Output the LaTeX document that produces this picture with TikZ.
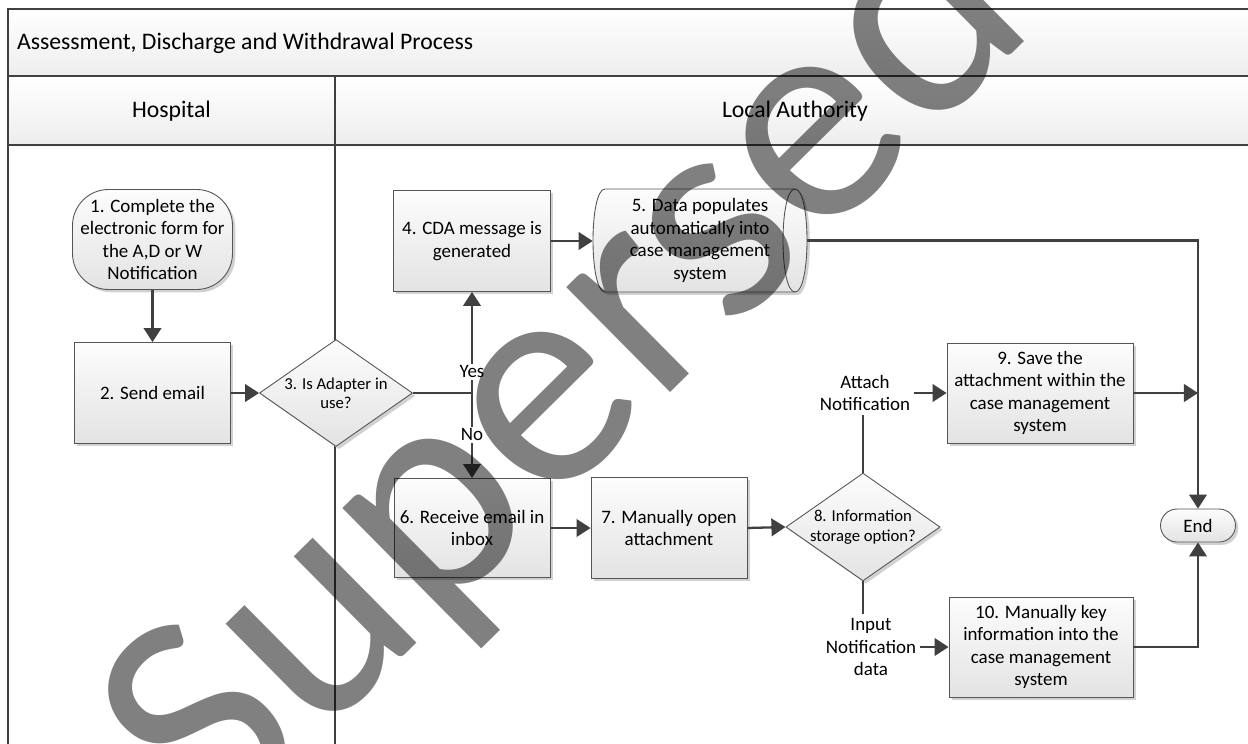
\documentclass[tikz,border=0pt]{standalone}
\usepackage{fontspec}
\setmainfont{Carlito}
\usetikzlibrary{shapes.geometric,arrows.meta,shadows,calc}
\definecolor{lineC}{RGB}{64,64,64}
\definecolor{boxline}{RGB}{85,85,85}
\definecolor{wmgray}{RGB}{128,128,128}
\newcommand{\boxfnt}{\fontsize{10.8}{12.8}\selectfont}
\newcommand{\diafnt}{\fontsize{9.5}{11}\selectfont}
\newcommand{\titfnt}{\fontsize{13.5}{15}\selectfont}
\begin{document}
\begin{tikzpicture}[x=0.02cm,y=-0.02cm,
  shadowed/.style={drop shadow={shadow xshift=1.6pt,shadow yshift=-1.6pt,fill=black!18,opacity=1}},
  boxfill/.style={top color=black!1, bottom color=black!11},
  box/.style={rectangle, draw=boxline, line width=0.5pt, boxfill, shadowed, align=center, font=\boxfnt, inner sep=1pt},
  dia/.style={diamond, aspect=1.43, draw=boxline, line width=0.5pt, boxfill, shadowed, align=center, font=\diafnt, inner sep=0pt},
  term/.style={box},
  lane/.style={draw=lineC, line width=1pt},
  band/.style={lane, top color=white, bottom color=black!7},
  conn/.style={draw=lineC, line width=1.3pt, -{Triangle[length=8pt,width=10pt]}},
  plain/.style={draw=lineC, line width=1.3pt},
  lbl/.style={fill=white, inner sep=1pt, font=\boxfnt},
  txt/.style={align=center, font=\boxfnt, inner sep=2pt}
]
\useasboundingbox (0,0) rectangle (1248,744);
% swimlanes
\path[band] (8,9) rectangle (1260,76);
\path[band] (8,76) rectangle (1260,145);
\path[lane, fill=white] (8,145) rectangle (1260,760);
\draw[lane] (335,76) -- (335,760);
\node[anchor=west, font=\titfnt, inner sep=1pt] (title) at (15,43) {Assessment, Discharge and Withdrawal Process};
\node[font=\titfnt] (hosp) at (171.5,111) {Hospital};
\node[font=\titfnt] (la) at (795,111) {Local Authority};

% nodes
\node[term, rounded corners=0.72cm, minimum width=3.2cm, minimum height=2.0cm] (n1) at (152.5,239.5)
  {1. Complete the\\electronic form for\\the A,D or W\\Notification};
\node[box, minimum width=3.12cm, minimum height=2.02cm] (n2) at (152.5,393) {2. Send email};
\node[dia, minimum width=3.06cm, minimum height=2.14cm] (n3) at (336,393) {3. Is Adapter in\\use?};
\node[box, minimum width=3.14cm, minimum height=2.02cm] (n4) at (472,241) {4. CDA message is\\generated};
% cylinder 5
\path[draw=boxline, line width=0.5pt, boxfill, shadowed]
  (605,189) -- (795,189) .. controls (811,189) and (811,292) .. (795,292)
  -- (605,292) .. controls (589,292) and (589,189) .. (605,189) -- cycle;
\draw[boxline, line width=0.5pt] (795,189) .. controls (779,189) and (779,292) .. (795,292);
\node[draw=none, align=center, font=\boxfnt, inner sep=0pt, minimum width=4.28cm, minimum height=2.06cm] (n5) at (700,240.5)
  {5. Data populates\\automatically into\\case management\\system};
\node[box, minimum width=3.12cm, minimum height=1.98cm] (n6) at (472,528) {6. Receive email in\\inbox};
\node[box, minimum width=3.12cm, minimum height=2.02cm] (n7) at (669,528) {7. Manually open\\attachment};
\node[dia, minimum width=3.08cm, minimum height=2.14cm] (n8) at (863,527) {8. Information\\storage option?};
\node[box, minimum width=3.72cm, minimum height=2.0cm] (n9) at (1040,393) {9. Save the\\attachment within the\\case management\\system};
\node[box, minimum width=3.68cm, minimum height=2.0cm] (n10) at (1041,647) {10. Manually key\\information into the\\case management\\system};
\node[term, rounded corners=0.33cm, minimum width=1.5cm, minimum height=0.66cm] (End) at (1198,525.5) {End};
\node[txt] (attach) at (865,393) {Attach\\Notification};
\node[txt] (input) at (871,647) {Input\\Notification\\data};
\coordinate (jn) at (472,393);

% connectors
\draw[conn] (n1.south) -- (n2.north);
\draw[conn] (n2.east) -- (n3.west);
\draw[plain] (n3.east) -- (jn);
\draw[conn] (jn) -- node[lbl, pos=0.21] (yes) {Yes} (n4.south);
\draw[conn] (jn) -- node[lbl, pos=0.49] (no) {No} (n6.north);
\draw[conn] (n4.east) -- (n4.east -| n5.west);
\draw[conn] (n5.east) -| (End.north);
\draw[conn] (n6.east) -- (n7.west);
\draw[conn] (n7.east) -- (n8.west);
\draw[plain] (n8.north) -- (n8.north |- attach.south);
\draw[conn] (attach.east) -- (attach.east -| n9.west);
\draw[conn] (n9.east) -- (n9.east -| End.north);
\draw[plain] (n8.south) -- (n8.south |- input.north);
\draw[conn] (input.east) -- (input.east -| n10.west);
\draw[conn] (n10.east) -| (End.south);

% watermark
\begin{scope}[blend mode=multiply]
\node[rotate=44.7, anchor=base west, inner sep=0pt, text=wmgray, font=\fontsize{176}{200}\selectfont] (wm) at (215,843) {Superseded};
\end{scope}
\end{tikzpicture}
\end{document}
